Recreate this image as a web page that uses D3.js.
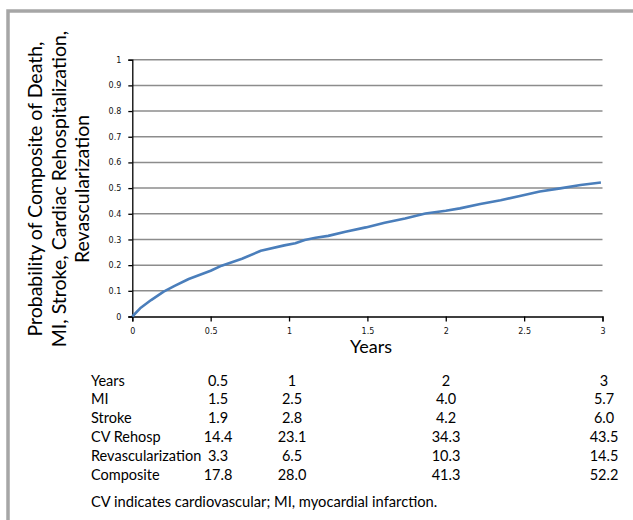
<!DOCTYPE html>
<html>
<head>
  <script src="https://cdnjs.cloudflare.com/ajax/libs/d3/7.8.5/d3.min.js"></script>
  <style>
    body { margin: 0; background: #fff; }
    svg { display: block; }
    .tick-lbl text { font-family: "DejaVu Sans", sans-serif; font-size: 8px; fill: #111; }
    .lab { font-family: Lato, "Open Sans", sans-serif; fill: #000; }
  </style>
</head>
<body>
  <svg id="chart" width="633" height="520"></svg>
  <script>
    // composite curve (years, probability)
    var years = [0, 0.05, 0.12, 0.2, 0.27, 0.36, 0.5, 0.57, 0.7, 0.82, 0.97, 1.04, 1.1, 1.17, 1.25,
                 1.36, 1.49, 1.61, 1.74, 1.87, 2.0, 2.09, 2.22, 2.35, 2.48, 2.6, 2.73, 2.86, 2.99];
    var prob  = [0, 0.032, 0.064, 0.097, 0.119, 0.146, 0.178, 0.198, 0.225, 0.256, 0.277, 0.285, 0.298, 0.307, 0.314,
                 0.33, 0.347, 0.365, 0.382, 0.401, 0.412, 0.421, 0.438, 0.453, 0.47, 0.487, 0.499, 0.512, 0.522];

    var yTicks = [0, 0.1, 0.2, 0.3, 0.4, 0.5, 0.6, 0.7, 0.8, 0.9, 1];
    var xTicks = [0, 0.5, 1, 1.5, 2, 2.5, 3];

    var yLabel = ["Probability of Composite of Death,",
                  "MI, Stroke, Cardiac Rehospitalization,",
                  "Revascularization"];

    // table under the chart
    var tableHead = ["Years", "0.5", "1", "2", "3"];
    var rowNames = ["MI", "Stroke", "CV Rehosp", "Revascularization", "Composite"];
    var mi        = ["1.5", "2.5", "4.0", "5.7"];
    var stroke    = ["1.9", "2.8", "4.2", "6.0"];
    var cvRehosp  = ["14.4", "23.1", "34.3", "43.5"];
    var revasc    = ["3.3", "6.5", "10.3", "14.5"];
    var composite = ["17.8", "28.0", "41.3", "52.2"];
    var footnote = "CV indicates cardiovascular; MI, myocardial infarction.";

    var svg = d3.select("#chart");

    // outer frame (only left + top visible)
    svg.append("rect")
      .attr("x", 8).attr("y", 11)
      .attr("width", 700).attr("height", 600)
      .attr("fill", "none")
      .attr("stroke", "#a6a6a6")
      .attr("stroke-width", 3.5);

    var x = d3.scaleLinear().domain([0, 3]).range([132.3, 602.5]);
    var y = d3.scaleLinear().domain([0, 1]).range([316.5, 59.7]);

    // gridlines
    svg.append("g")
      .selectAll("line")
      .data(yTicks.filter(function(d) { return d > 0; }))
      .enter()
      .append("line")
      .attr("x1", x(0)).attr("x2", x(3))
      .attr("y1", function(d) { return y(d); })
      .attr("y2", function(d) { return y(d); })
      .attr("stroke", "#8c8c8c")
      .attr("stroke-width", 1.5);

    svg.append("g")
      .attr("class", "tick-lbl")
      .attr("transform", "translate(" + x(0) + ",0)")
      .call(d3.axisLeft(y).tickValues(yTicks).tickFormat(d3.format("")).tickSize(4).tickPadding(7));

    svg.append("g")
      .attr("class", "tick-lbl")
      .attr("transform", "translate(0," + y(0) + ")")
      .call(d3.axisBottom(x).tickValues(xTicks).tickFormat(d3.format("")).tickSize(5).tickPadding(7));

    svg.selectAll(".tick-lbl path, .tick-lbl line")
      .attr("stroke", "#000")
      .attr("stroke-width", 1.3);

    // curve
    var pts = years.map(function(d, i) { return [d, prob[i]]; });
    var line = d3.line()
      .x(function(d) { return x(d[0]); })
      .y(function(d) { return y(d[1]); });

    svg.append("path")
      .datum(pts)
      .attr("d", line)
      .attr("fill", "none")
      .attr("stroke", "#4a7ebb")
      .attr("stroke-width", 2.6)
      .attr("stroke-linejoin", "round");

    // axis titles
    svg.append("text")
      .attr("class", "lab")
      .attr("x", 371).attr("y", 353)
      .attr("text-anchor", "middle")
      .style("font-size", "18px")
      .text("Years");

    var yl = svg.append("text")
      .attr("class", "lab")
      .attr("transform", "translate(0,189) rotate(-90)")
      .attr("text-anchor", "middle")
      .style("font-size", "19.5px");
    yl.selectAll("tspan")
      .data(yLabel)
      .enter()
      .append("tspan")
      .attr("x", 0)
      .attr("y", function(d, i) { return 42 + i * 23.5; })
      .text(function(d) { return d; });

    // table
    var colX = [218, 292, 446, 604];
    var rows = [[tableHead[0]].concat(tableHead.slice(1))];
    [mi, stroke, cvRehosp, revasc, composite].forEach(function(r, i) {
      rows.push([rowNames[i]].concat(r));
    });

    var tbl = svg.append("g").attr("class", "lab").style("font-size", "14.5px");
    rows.forEach(function(r, ri) {
      var ty = 385.5 + ri * 18.9;
      tbl.append("text").attr("x", 91).attr("y", ty).text(r[0]);
      r.slice(1).forEach(function(v, ci) {
        tbl.append("text")
          .attr("x", colX[ci]).attr("y", ty)
          .attr("text-anchor", "middle")
          .text(v);
      });
    });

    svg.append("text")
      .attr("class", "lab")
      .attr("x", 91).attr("y", 507)
      .style("font-size", "14.7px")
      .text(footnote);
  </script>
</body>
</html>
